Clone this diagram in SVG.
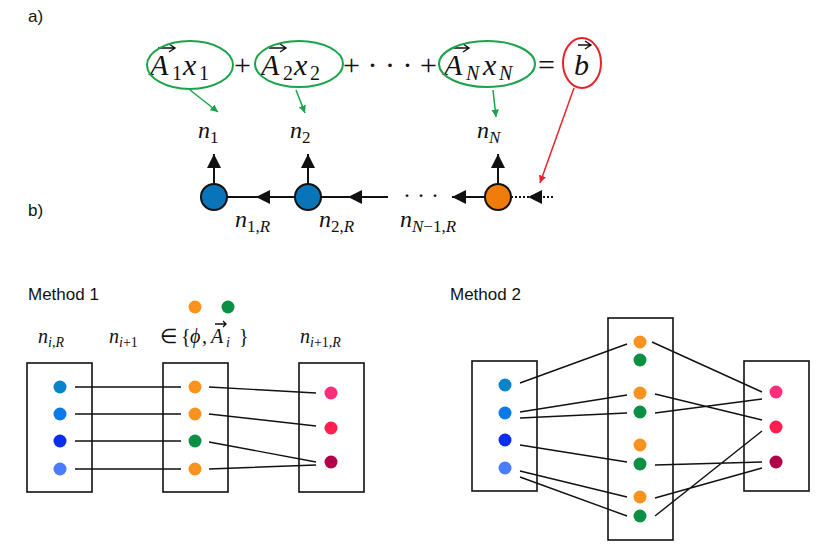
<svg xmlns="http://www.w3.org/2000/svg" width="831" height="547" viewBox="0 0 831 547">
<style>
.s{font-family:"Liberation Sans",Arial,sans-serif;font-size:17px;fill:#111}
.m{font-family:"Liberation Serif","Times New Roman",serif;font-style:italic;fill:#111}
.r{font-style:normal}
.eq{font-size:30px}
.lb{font-size:24px}
.sm{font-size:20px}
.box{fill:none;stroke:#111;stroke-width:1.6}
.ln{stroke:#111;stroke-width:1.4;fill:none}
.ge{fill:none;stroke:#1aa34a;stroke-width:2}
</style>
<defs>
<marker id="ah" viewBox="0 0 10 10" refX="10" refY="5" markerWidth="7" markerHeight="7" orient="auto"><path d="M0,0L10,5L0,10z" fill="#111"/></marker>
<marker id="gh" viewBox="0 0 10 10" refX="10" refY="5" markerWidth="5" markerHeight="5" orient="auto"><path d="M0,0L10,5L0,10z" fill="#1aa34a"/></marker>
<marker id="rh" viewBox="0 0 10 10" refX="10" refY="5" markerWidth="5" markerHeight="5" orient="auto"><path d="M0,0L10,5L0,10z" fill="#e8232a"/></marker>
</defs>
<rect width="831" height="547" fill="#fff"/>
<text class="s" x="28" y="22">a)</text>
<text class="s" x="28" y="216">b)</text>
<text class="s" x="28" y="300">Method 1</text>
<text class="s" x="450" y="300">Method 2</text>
<g id="equation">
<text class="m eq" y="75"><tspan x="150">A</tspan><tspan x="172" y="80" font-size="20" class="r">1</tspan><tspan x="183" y="75">x</tspan><tspan x="199" y="80" font-size="20" class="r">1</tspan></text>
<text class="m eq r" x="234" y="75">+</text>
<text class="m eq" y="75"><tspan x="261">A</tspan><tspan x="283" y="80" font-size="20" class="r">2</tspan><tspan x="294" y="75">x</tspan><tspan x="310" y="80" font-size="20" class="r">2</tspan></text>
<text class="m eq r" x="343" y="75">+ · · · +</text>
<text class="m eq" y="75"><tspan x="444">A</tspan><tspan x="466" y="80" font-size="20">N</tspan><tspan x="483" y="75">x</tspan><tspan x="499" y="80" font-size="20">N</tspan></text>
<text class="m eq r" x="538" y="75">=</text>
<text class="m eq" x="574" y="75">b</text>
<g class="ln" stroke-width="1.6"><path d="M158,48h17M169,44l6,4-6,4"/><path d="M269,48h17M280,44l6,4-6,4"/><path d="M452,48h17M463,44l6,4-6,4"/><path d="M578,45h13M585,41l6,4-6,4"/></g>
<ellipse class="ge" cx="190" cy="65" rx="43" ry="24"/>
<ellipse class="ge" cx="299" cy="64" rx="44" ry="23"/>
<ellipse class="ge" cx="487" cy="64" rx="48" ry="23"/>
<ellipse cx="582" cy="63" rx="19" ry="25" fill="none" stroke="#e8232a" stroke-width="2"/>
<path d="M190,90L218,112" stroke="#1aa34a" stroke-width="1.5" marker-end="url(#gh)"/>
<path d="M296,90L305,113" stroke="#1aa34a" stroke-width="1.5" marker-end="url(#gh)"/>
<path d="M493,90L496,117" stroke="#1aa34a" stroke-width="1.5" marker-end="url(#gh)"/>
<path d="M574,88L540,183" stroke="#e8232a" stroke-width="1.5" marker-end="url(#rh)"/>
</g>
<g id="chain-labels">
<text class="m lb" x="198" y="138">n<tspan font-size="17" dy="5" class="r">1</tspan></text>
<text class="m lb" x="290" y="138">n<tspan font-size="17" dy="5" class="r">2</tspan></text>
<text class="m lb" x="477" y="138">n<tspan font-size="17" dy="5">N</tspan></text>
<text class="m lb" x="235" y="227">n<tspan font-size="17" dy="5" class="r">1,</tspan><tspan font-size="17">R</tspan></text>
<text class="m lb" x="319" y="227">n<tspan font-size="17" dy="5" class="r">2,</tspan><tspan font-size="17">R</tspan></text>
<text class="m lb" x="400" y="227">n<tspan font-size="17" dy="5">N</tspan><tspan font-size="17" class="r">−1,</tspan><tspan font-size="17">R</tspan></text>
<text class="m lb r" x="403" y="203">· · ·</text>
</g>
<g id="connectors-b" stroke="#111" stroke-width="2">
<path d="M214,184V154" marker-end="url(#ah)"/>
<path d="M308,184V154" marker-end="url(#ah)"/>
<path d="M498,184V154" marker-end="url(#ah)"/>
<path d="M295,197H256" marker-end="url(#ah)"/><path d="M258,197H227"/>
<path d="M388,197H348" marker-end="url(#ah)"/><path d="M350,197H321"/>
<path d="M485,197H452" marker-end="url(#ah)"/>
<path d="M553,197H528" stroke-dasharray="2,2" marker-end="url(#ah)"/><path d="M529,197H511" stroke-dasharray="2,2"/>
</g>
<g id="chain-nodes" stroke="#111" stroke-width="2">
<circle cx="214" cy="197" r="13" fill="#0a74b8"/>
<circle cx="308" cy="197" r="13" fill="#0a74b8"/>
<circle cx="498" cy="197" r="13" fill="#f07c0a"/>
</g>
<g id="method1">
<circle cx="195" cy="307" r="6.5" fill="#f7931e"/><circle cx="228" cy="307" r="6.5" fill="#0a8f45"/>
<text class="m sm" x="38" y="343">n<tspan font-size="14" dy="4">i</tspan><tspan font-size="14" class="r">,</tspan><tspan font-size="14">R</tspan></text>
<text class="m sm" y="343"><tspan x="109">n</tspan><tspan x="119" y="347" font-size="14">i</tspan><tspan font-size="14" class="r">+1</tspan><tspan x="160" y="343" class="r">∈</tspan><tspan x="181" class="r">{</tspan><tspan x="190">ϕ</tspan><tspan x="202" class="r">,</tspan><tspan x="211">A</tspan><tspan x="226" y="347" font-size="14">i</tspan><tspan x="239" y="343" class="r">}</tspan></text>
<path class="ln" d="M215,324h11M223,321l3,3-3,3"/>
<text class="m sm" x="300" y="343">n<tspan font-size="14" dy="4">i</tspan><tspan font-size="14" class="r">+1,</tspan><tspan font-size="14">R</tspan></text>
<rect class="box" x="27" y="363" width="65" height="129"/>
<rect class="box" x="163" y="363" width="65" height="129"/>
<rect class="box" x="299" y="363" width="65" height="129"/>
<g id="m1-lines" class="ln">
<path d="M75,387H181M75,414H181M75,441H181M75,469H181"/>
<path d="M209,387L316,393M209,414L316,426M209,442L316,462M209,469L316,465"/>
</g>
<circle cx="60" cy="387" r="6.5" fill="#0a84c8"/><circle cx="60" cy="414" r="6.5" fill="#0a7ae8"/><circle cx="60" cy="441" r="6.5" fill="#0a2ef0"/><circle cx="60" cy="469" r="6.5" fill="#4a7cff"/>
<circle cx="195" cy="387" r="6.5" fill="#f7931e"/><circle cx="195" cy="414" r="6.5" fill="#f7931e"/><circle cx="195" cy="441" r="6.5" fill="#0a8f45"/><circle cx="195" cy="469" r="6.5" fill="#f7931e"/>
<circle cx="331" cy="393" r="6.5" fill="#ff2e7a"/><circle cx="331" cy="428" r="6.5" fill="#ff1f4f"/><circle cx="331" cy="462" r="6.5" fill="#b0004a"/>
</g>
<g id="method2">
<rect class="box" x="472" y="361" width="65" height="130"/>
<rect class="box" x="608" y="318" width="65" height="222"/>
<rect class="box" x="744" y="361" width="65" height="130"/>
<g id="m2-lines" class="ln">
<path d="M520,383L627,344M520,412L627,395M520,418L627,413M520,445L627,462M520,471L627,497M520,477L627,516"/>
<path d="M652,342L762,392M655,394L762,420M655,413L762,399M655,465L762,462M655,498L762,468M655,516L762,431"/>
</g>
<circle cx="505" cy="385" r="6.5" fill="#0a84c8"/><circle cx="505" cy="413" r="6.5" fill="#0a7ae8"/><circle cx="505" cy="440" r="6.5" fill="#0a2ef0"/><circle cx="505" cy="468" r="6.5" fill="#4a7cff"/>
<circle cx="640" cy="342" r="6.5" fill="#f7931e"/><circle cx="640" cy="360" r="6.5" fill="#0a8f45"/>
<circle cx="640" cy="393" r="6.5" fill="#f7931e"/><circle cx="640" cy="412" r="6.5" fill="#0a8f45"/>
<circle cx="640" cy="445" r="6.5" fill="#f7931e"/><circle cx="640" cy="464" r="6.5" fill="#0a8f45"/>
<circle cx="640" cy="497" r="6.5" fill="#f7931e"/><circle cx="640" cy="516" r="6.5" fill="#0a8f45"/>
<circle cx="776" cy="392" r="6.5" fill="#ff2e7a"/><circle cx="776" cy="427" r="6.5" fill="#ff1f4f"/><circle cx="776" cy="462" r="6.5" fill="#b0004a"/>
</g>
</svg>
